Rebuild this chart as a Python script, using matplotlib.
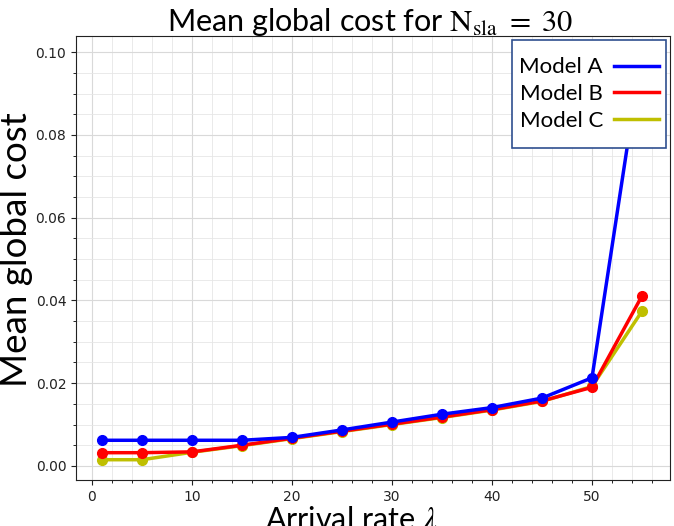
import matplotlib
matplotlib.use("Agg")
import matplotlib.pyplot as plt
from matplotlib.ticker import MultipleLocator, FormatStrFormatter
from matplotlib.lines import Line2D
from matplotlib.patches import Rectangle

plt.rcParams['mathtext.fontset'] = 'stix'

arrival = [1, 5, 10, 15, 20, 25, 30, 35, 40, 45, 50, 55]
model_a = [0.0062, 0.0062, 0.0062, 0.0062, 0.0069, 0.0087, 0.0106, 0.0125, 0.0141, 0.0164, 0.0213, 0.1005]
model_b = [0.0032, 0.0032, 0.0034, 0.0050, 0.0067, 0.0084, 0.0101, 0.0118, 0.0136, 0.0157, 0.0190, 0.0411]
model_c = [0.0015, 0.0015, 0.0033, 0.0049, 0.0066, 0.0083, 0.0100, 0.0117, 0.0135, 0.0156, 0.0192, 0.0374]
labels = ["Model A", "Model B", "Model C"]
colors = ["#0000ff", "#ff0000", "#bfbf00"]

W, H = 674, 526
fig = plt.figure(figsize=(W/100, H/100), dpi=100)
ax = fig.add_axes([76/W, 1-480/H, (670-76)/W, (480-36)/H])

ax.plot(arrival, model_c, color=colors[2], lw=2.5, marker='o', ms=7, zorder=3)
ax.plot(arrival, model_b, color=colors[1], lw=2.5, marker='o', ms=7, zorder=4)
ax.plot(arrival, model_a, color=colors[0], lw=2.5, marker='o', ms=7, zorder=5)

ax.set_xlim(-1.6, 57.8)
ax.set_ylim(-0.0034, 0.1039)
ax.xaxis.set_major_locator(MultipleLocator(10))
ax.xaxis.set_minor_locator(MultipleLocator(2))
ax.yaxis.set_major_locator(MultipleLocator(0.02))
ax.yaxis.set_minor_locator(MultipleLocator(0.005))
ax.yaxis.set_major_formatter(FormatStrFormatter('%.2f'))
ax.grid(True, which='major', color='#d9d9d9', lw=0.8)
ax.grid(True, which='minor', color='#e6e6e6', lw=0.6)
ax.set_axisbelow(True)
ax.tick_params(labelsize=10, colors='#222222')
for s in ax.spines.values():
    s.set_color('#222222')

fig.text(370/W, 1-31/H, r"Mean global cost for $\mathrm{N}_{\mathrm{sla}}\ =\ 30$",
         ha='center', va='baseline', fontsize=22, family='Lato')
ax.set_ylabel("Mean global cost", fontsize=26.5, family='Lato')
ax.yaxis.set_label_coords(-0.072, 0.518)
ax.set_xlabel(r"Arrival rate $\lambda$", fontsize=22, family='Lato')
ax.xaxis.set_label_coords(0.463, -0.057)
ax.xaxis.label.set_va('top')

# legend frame drawn as a rectangle, legend entries without frame
frame = Rectangle((512/W, 1-148/H), (666-512)/W, (148-40)/H, transform=fig.transFigure,
                  facecolor='white', edgecolor='#2f4f8f', lw=1.2, zorder=10)
fig.patches.append(frame)
lh = [Line2D([], [], color=c, lw=2.5) for c in colors]
leg = fig.legend(lh, labels, loc='center', bbox_to_anchor=(589/W, 1-94/H),
                 markerfirst=False, frameon=False, prop={'family': 'Lato', 'size': 16},
                 handlelength=2.0, handletextpad=0.5, labelspacing=0.3, borderpad=0)
leg.set_zorder(11)

fig.savefig("out.png", dpi=100)
